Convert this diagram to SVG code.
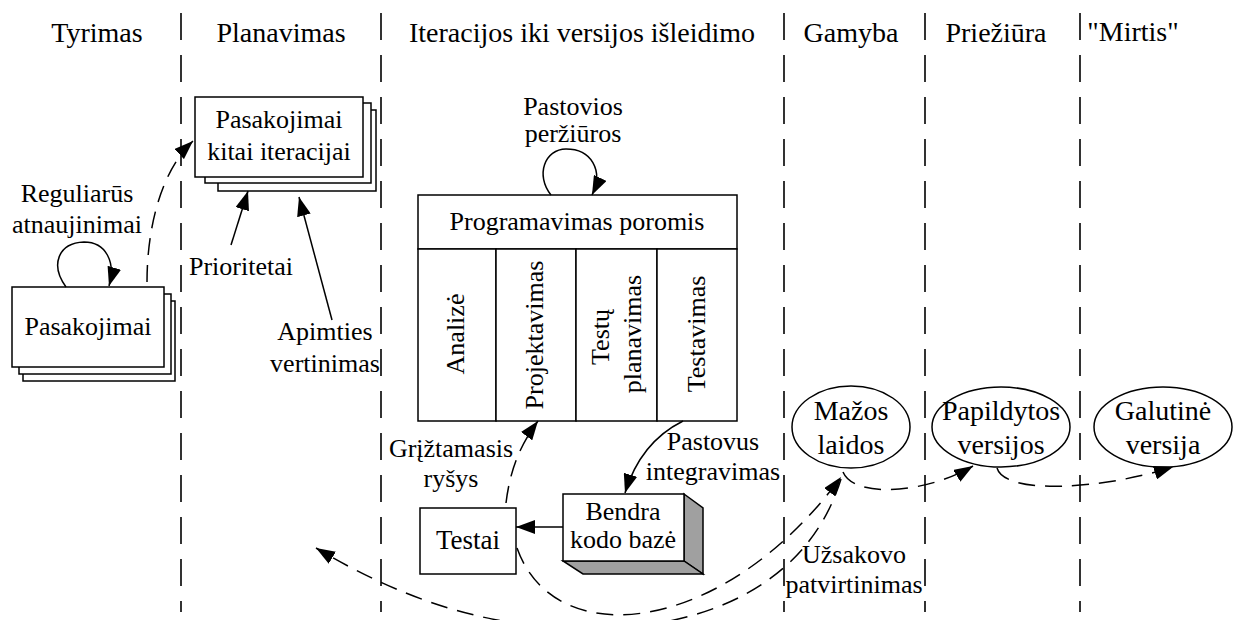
<svg xmlns="http://www.w3.org/2000/svg" width="1235" height="620" viewBox="0 0 1235 620" font-family="Liberation Serif, DejaVu Serif, Noto Serif, serif">
<style>
text{font-size:26px;fill:#000;text-anchor:middle}
.big{font-size:28px}
.box{fill:#fff;stroke:#000;stroke-width:1.5}
.lane{stroke:#000;stroke-width:1.6;stroke-dasharray:27,15;fill:none}
.solid{fill:none;stroke:#000;stroke-width:1.5}
.dash{fill:none;stroke:#000;stroke-width:1.5;stroke-dasharray:17,10}
.arr{marker-end:url(#ah)}
</style>
<defs>
<marker id="ah" viewBox="0 0 19 14" refX="19" refY="7" markerWidth="19" markerHeight="14" markerUnits="userSpaceOnUse" orient="auto">
<path d="M0,0 L19,7 L0,14 Z" fill="#000" stroke="none"/>
</marker>
</defs>
<rect width="1235" height="620" fill="#fff"/>

<g id="lanes">
<line class="lane" x1="181" y1="13" x2="181" y2="612"/>
<line class="lane" x1="381" y1="13" x2="381" y2="612"/>
<line class="lane" x1="784" y1="13" x2="784" y2="612"/>
<line class="lane" x1="925" y1="13" x2="925" y2="612"/>
<line class="lane" x1="1080" y1="13" x2="1080" y2="612"/>
</g>

<g id="headers">
<text class="big" x="97" y="42">Tyrimas</text>
<text class="big" x="281" y="42">Planavimas</text>
<text class="big" x="582" y="42">Iteracijos iki versijos išleidimo</text>
<text class="big" x="851" y="42">Gamyba</text>
<text class="big" x="996" y="42">Priežiūra</text>
<text class="big" x="1133" y="41">"Mirtis"</text>
</g>

<g id="pasakojimai">
<rect class="box" x="23" y="301" width="152" height="80"/>
<rect class="box" x="19" y="294" width="152" height="80"/>
<rect class="box" x="12" y="287" width="152" height="80"/>
<text x="88" y="335">Pasakojimai</text>
</g>

<g id="pasakojimai-kitai">
<rect class="box" x="218" y="110" width="158" height="81"/>
<rect class="box" x="205" y="103" width="166" height="80"/>
<rect class="box" x="195" y="97" width="168" height="80"/>
<text x="279" y="128">Pasakojimai</text>
<text x="279" y="160">kitai iteracijai</text>
</g>

<g id="programavimas">
<rect class="box" x="418" y="195" width="319" height="54"/>
<text x="577" y="230">Programavimas poromis</text>
<rect class="box" x="418" y="249" width="78" height="172"/>
<rect class="box" x="496" y="249" width="80" height="172"/>
<rect class="box" x="576" y="249" width="81" height="172"/>
<rect class="box" x="657" y="249" width="80" height="172"/>
<text transform="translate(464,334) rotate(-90)">Analizė</text>
<text transform="translate(543,335) rotate(-90)">Projektavimas</text>
<text transform="translate(609,337) rotate(-90)">Testų</text>
<text transform="translate(641,334) rotate(-90)">planavimas</text>
<text transform="translate(705,334) rotate(-90)">Testavimas</text>
</g>

<g id="testai">
<rect class="box" x="420" y="508" width="96" height="66"/>
<text x="468" y="549" style="font-size:27px">Testai</text>
</g>

<g id="bendra">
<path d="M684,494 L703,508 L703,574 L684,561 Z" fill="#a0a0a0" stroke="#000" stroke-width="1.5"/>
<path d="M563,561 L684,561 L703,574 L583,574 Z" fill="#a0a0a0" stroke="#000" stroke-width="1.5"/>
<rect class="box" x="563" y="494" width="121" height="67"/>
<text x="623" y="520">Bendra</text>
<text x="623" y="548">kodo bazė</text>
</g>

<g id="mazos">
<ellipse class="box" cx="851" cy="427" rx="59" ry="41"/>
<text class="big" x="851" y="420">Mažos</text>
<text class="big" x="851" y="454">laidos</text>
</g>

<g id="papildytos">
<ellipse class="box" cx="1001" cy="427" rx="69" ry="40"/>
<text class="big" x="1001" y="420">Papildytos</text>
<text class="big" x="1001" y="454">versijos</text>
</g>

<g id="galutine">
<ellipse class="box" cx="1163" cy="427" rx="69" ry="40"/>
<text class="big" x="1163" y="420">Galutinė</text>
<text class="big" x="1163" y="454">versija</text>
</g>

<g id="connectors">
<path class="dash arr" d="M147,282 C147,230 160,172 193,141"/>
<path class="solid arr" d="M66,287 C50,265 58,243 84,242 C106,242 116,262 109,286"/>
<line class="solid arr" x1="231" y1="245" x2="248" y2="191"/>
<line class="solid arr" x1="332" y1="320" x2="299" y2="197"/>
<path class="solid arr" d="M551,195 C535,175 545,149 566,149 C591,149 604,170 592,195"/>
<path class="dash arr" d="M506,503 C510,470 520,445 538,421"/>
<path class="solid arr" d="M683,421 C655,435 635,460 625,493"/>
<line class="solid arr" x1="563" y1="527" x2="516" y2="527"/>
<path class="dash arr" d="M517,548 C555,655 725,635 841,477"/>
<path class="dash arr" d="M841,479 C810,580 710,634 570,628 C480,625 400,598 316,548"/>
<path class="dash arr" d="M843,472 C855,500 930,492 973,466"/>
<path class="dash arr" d="M997,468 C1005,495 1100,490 1173,467"/>
</g>

<g id="labels">
<text x="77" y="202">Reguliarūs</text>
<text x="77" y="233">atnaujinimai</text>
<text x="241" y="275">Prioritetai</text>
<text x="325" y="340">Apimties</text>
<text x="325" y="372">vertinimas</text>
<text x="573" y="115">Pastovios</text>
<text x="573" y="142">peržiūros</text>
<text x="451" y="457">Grįžtamasis</text>
<text x="451" y="487">ryšys</text>
<text x="713" y="450">Pastovus</text>
<text x="713" y="480">integravimas</text>
<text x="854" y="563">Užsakovo</text>
<text x="854" y="593">patvirtinimas</text>
</g>
</svg>
